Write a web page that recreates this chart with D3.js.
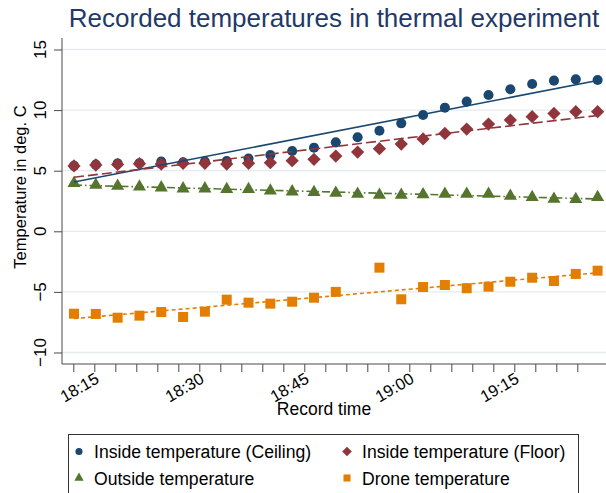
<!DOCTYPE html>
<html>
<head>
<meta charset="utf-8">
<style>
body { margin: 0; background: #fff; }
svg { display: block; font-family: "Liberation Sans", Arial, sans-serif; }
.grid line { stroke: #e3ebf0; stroke-width: 1.3px; }
.axis line, .axis path { stroke: #4a4a4a; }
</style>
</head>
<body>
<svg width="606" height="493"></svg>
<script src="https://cdn.jsdelivr.net/npm/d3@7"></script>
<script>

// record times, one per reading
var times = ["18:12:06","18:15:13","18:18:20","18:21:27","18:24:34","18:27:41","18:30:48",
  "18:33:55","18:37:02","18:40:09","18:43:16","18:46:23","18:49:30","18:52:37","18:55:44",
  "18:58:51","19:01:58","19:05:05","19:08:12","19:11:19","19:14:26","19:17:33","19:20:40",
  "19:23:47","19:26:54"];

var ceiling = [5.40,5.50,5.60,5.62,5.75,5.70,5.75,5.80,6.00,6.30,6.63,6.90,7.34,7.76,8.30,
  8.91,9.60,10.20,10.70,11.25,11.72,12.15,12.43,12.54,12.48];
var floor = [5.39,5.47,5.52,5.58,5.55,5.61,5.61,5.55,5.61,5.66,5.83,5.94,6.21,6.54,6.82,
  7.20,7.62,8.08,8.44,8.85,9.18,9.46,9.73,9.87,9.87];
var outside = [3.96,3.82,3.74,3.68,3.60,3.52,3.52,3.47,3.47,3.35,3.27,3.22,3.16,3.08,3.00,
  3.00,3.03,3.08,3.08,3.08,2.91,2.81,2.66,2.64,2.81];
var drone = [-6.80,-6.82,-7.13,-6.96,-6.66,-7.07,-6.63,-5.64,-5.89,-5.97,-5.81,-5.48,-5.00,null,
  -3.00,-5.61,-4.60,-4.43,-4.70,-4.57,-4.16,-3.83,-4.10,-3.52,-3.25];

var seriesNames = ["Inside temperature (Ceiling)","Inside temperature (Floor)",
  "Outside temperature","Drone temperature"];
var yTicks = [-10,-5,0,5,10,15];
var xLabelTimes = ["18:15","18:30","18:45","19:00","19:15"];

var parse = d3.timeParse("%H:%M:%S"),
    parseHM = d3.timeParse("%H:%M");

var svg = d3.select("svg");
var plotLeft = 62, plotRight = 606, plotTop = 38, plotBottom = 364;

var x = d3.scaleTime()
    .domain([parseHM("18:12"), parseHM("19:24")])
    .range([73.3, 577.3]);
var y = d3.scaleLinear().domain([-10.95, 15.95]).range([plotBottom, plotTop]);

var styles = [
  {values: ceiling, color: "#1a476f", shape: "circle", dash: null},
  {values: floor,   color: "#90353b", shape: "diamond", dash: "10,4"},
  {values: outside, color: "#55752f", shape: "triangle", dash: "8,3,1.5,3"},
  {values: drone,   color: "#e37e00", shape: "square", dash: "4,3"}
];

function symbolPath(shape, big) {
  var s;
  if (shape == "circle") s = d3.symbol(d3.symbolCircle, big ? 80 : 40);
  else if (shape == "diamond") s = d3.symbol(d3.symbolSquare, big ? 88 : 46);
  else if (shape == "triangle") s = d3.symbol(d3.symbolTriangle, big ? 74 : 38);
  else s = d3.symbol(d3.symbolSquare, big ? 100 : 50);
  return s();
}

// title
svg.append("text")
    .attr("x", 334).attr("y", 27)
    .attr("text-anchor", "middle")
    .style("font-size", "26px")
    .style("fill", "#1f3a68")
    .text("Recorded temperatures in thermal experiment");

// grid
svg.append("g").attr("class", "grid")
  .selectAll("line").data(yTicks).enter().append("line")
    .attr("x1", plotLeft).attr("x2", plotRight)
    .attr("y1", d => y(d)).attr("y2", d => y(d));

// y axis
var gy = svg.append("g").attr("class", "axis")
    .attr("transform", `translate(${plotLeft},0)`)
    .call(d3.axisLeft(y).tickValues(yTicks).tickSize(8).tickFormat(""));
gy.select(".domain").remove();
gy.append("line").attr("x1", 0).attr("x2", 0).attr("y1", plotTop).attr("y2", plotBottom);
svg.append("g").selectAll("text").data(yTicks).enter().append("text")
    .attr("transform", d => `translate(46,${y(d)}) rotate(-90)`)
    .attr("text-anchor", "middle")
    .style("font-size", "17px")
    .text(d => d < 0 ? "\u2212" + Math.abs(d) : d);

// x axis
var xTicks = d3.timeMinute.every(3).range(parseHM("18:12"), parseHM("19:25"));
var gx = svg.append("g").attr("class", "axis")
    .attr("transform", `translate(0,${plotBottom})`)
    .call(d3.axisBottom(x).tickValues(xTicks).tickSize(8).tickFormat(""));
gx.select(".domain").remove();
gx.append("line").attr("x1", plotLeft).attr("x2", plotRight).attr("y1", 0).attr("y2", 0);
svg.append("g").selectAll("text").data(xLabelTimes).enter().append("text")
    .attr("transform", d => `translate(${x(parseHM(d)) + 3},${plotBottom + 13}) rotate(-30)`)
    .attr("text-anchor", "end")
    .attr("dy", "0.35em")
    .style("font-size", "16.5px")
    .text(d => d);

// axis titles
svg.append("text")
    .attr("x", 324).attr("y", 415)
    .attr("text-anchor", "middle")
    .style("font-size", "17.5px")
    .text("Record time");
svg.append("text")
    .attr("transform", "translate(26,187) rotate(-90)")
    .attr("text-anchor", "middle")
    .style("font-size", "16.5px")
    .text("Temperature in deg. C");

// markers
styles.forEach(function(s) {
  var pts = times.map((t, i) => ({t: parse(t), v: s.values[i]})).filter(d => d.v != null);
  svg.append("g").selectAll("path").data(pts).enter().append("path")
      .attr("d", symbolPath(s.shape, true))
      .attr("transform", d => `translate(${x(d.t)},${y(d.v)})` + (s.shape == "diamond" ? " rotate(45)" : ""))
      .attr("fill", s.color);
});

// linear fits
styles.forEach(function(s) {
  var pts = times.map((t, i) => ({t: +parse(t), v: s.values[i]})).filter(d => d.v != null);
  var mt = d3.mean(pts, d => d.t), mv = d3.mean(pts, d => d.v);
  var b = d3.sum(pts, d => (d.t - mt) * (d.v - mv)) / d3.sum(pts, d => (d.t - mt) * (d.t - mt));
  var ends = [pts[0].t, pts[pts.length - 1].t].map(t => [t, mv + b * (t - mt)]);
  svg.append("path")
      .datum(ends)
      .attr("d", d3.line().x(d => x(d[0])).y(d => y(d[1])))
      .attr("fill", "none")
      .attr("stroke", s.color)
      .attr("stroke-width", 1.6)
      .attr("stroke-dasharray", s.dash);
});

// legend
svg.append("rect")
    .attr("x", 68.5).attr("y", 434.5).attr("width", 510).attr("height", 80)
    .attr("fill", "#fff").attr("stroke", "#333").attr("stroke-width", 1);
var legPos = [[79, 451.5], [347, 451.5], [79, 478], [347, 478]];
var leg = svg.append("g").selectAll("g").data(styles).enter().append("g")
    .attr("transform", (d, i) => `translate(${legPos[i][0]},${legPos[i][1]})`);
leg.append("path")
    .attr("d", d => symbolPath(d.shape, false))
    .attr("transform", d => d.shape == "diamond" ? "rotate(45)" : "")
    .attr("fill", d => d.color);
leg.append("text")
    .attr("x", 15).attr("y", 6.5)
    .style("font-size", "17.6px")
    .text((d, i) => seriesNames[i]);

</script>
</body>
</html>
